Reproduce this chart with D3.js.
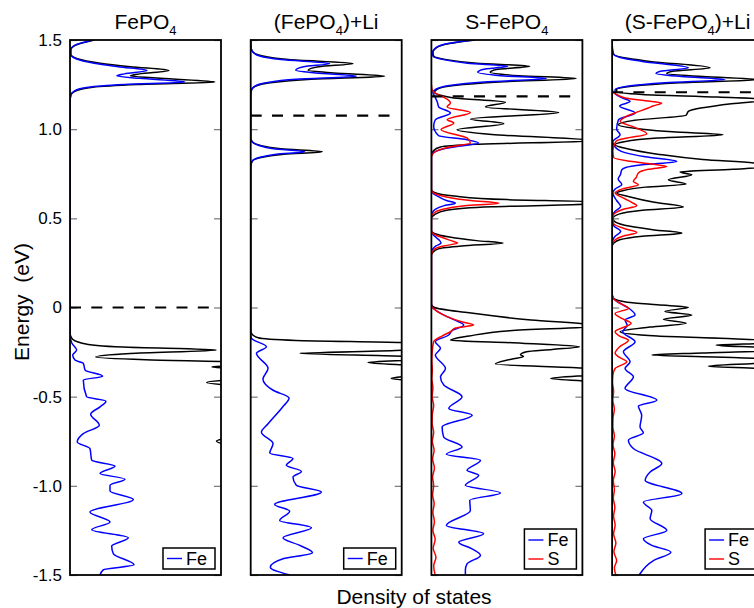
<!DOCTYPE html>
<html>
<head>
<meta charset="utf-8">
<script src="https://cdn.jsdelivr.net/npm/d3@7"></script>
<style>
  body { margin: 0; background: #fff; }
</style>
</head>
<body>
<div id="chart"></div>
<script>
// energy (eV), density of states (arb.) pairs
var titles = [["FePO", "4", ""], ["(FePO", "4", ")+Li"], ["S-FePO", "4", ""], ["(S-FePO", "4", ")+Li"]];
var fermiLevels = [0, 1.076, 1.184, 1.207];
var energyTicks = [-1.5, -1.0, -0.5, 0, 0.5, 1.0, 1.5];

// panel 1: FePO4
var fePO4Total = [[1.5,1.6],[1.47,0.35],[1.445,0.05],[1.42,0.05],[1.395,0.5],[1.37,2.0],[1.35,4.0],[1.329,6.55],[1.31,4.6],[1.299,4.0],[1.285,6.0],[1.265,9.6],[1.25,4.5],[1.235,1.5],[1.215,0.4],[1.19,0.05],[1.15,0],
  [-0.14,0],[-0.17,0.1],[-0.2,0.8],[-0.222,3.5],[-0.239,9.7],[-0.258,4],[-0.278,1.7],[-0.293,5],[-0.305,11],[-0.32,12.5],[-0.333,9.4],[-0.35,12],[-0.39,12.5],[-0.42,9.05],[-0.45,12],[-0.55,12.5],[-0.7,12],[-0.75,9.7],[-0.8,12],[-1.0,13],[-1.2,12.5],[-1.5,13]];
var fePO4Fe = [[1.5,1.5],[1.47,0.3],[1.445,0.05],[1.42,0.05],[1.395,0.4],[1.37,1.6],[1.35,3.2],[1.329,5.1],[1.31,3.6],[1.299,3.1],[1.285,4.6],[1.265,7.6],[1.25,3.6],[1.235,1.2],[1.215,0.3],[1.19,0.05],[1.15,0],
  [-0.15,0],[-0.198,0.11],[-0.239,0.44],[-0.267,0.18],[-0.295,0.33],[-0.313,0.88],[-0.351,1.0],[-0.385,2.16],[-0.407,0.88],[-0.501,1.1],[-0.525,2.38],[-0.557,1.99],[-0.598,1.37],[-0.66,1.94],[-0.707,0.88],[-0.754,0.48],[-0.791,1.32],[-0.857,1.44],[-0.889,2.98],[-0.931,1.99],[-0.963,3.64],[-0.997,2.65],[-1.029,2.65],[-1.076,4.19],[-1.147,1.32],[-1.203,2.65],[-1.246,1.44],[-1.291,3.86],[-1.338,2.76],[-1.381,2.87],[-1.443,4.24],[-1.471,2.2],[-1.5,1.99]];

// panel 2: (FePO4)+Li
var liTotal = [[1.5,0],[1.46,0.02],[1.437,0.1],[1.41,0.8],[1.39,2.5],[1.368,6.78],[1.35,4.5],[1.33,3.8],[1.315,5.5],[1.297,8.87],[1.28,4],[1.26,1.3],[1.24,0.3],[1.22,0.05],[1.19,0],
  [0.95,0],[0.93,0.1],[0.91,0.6],[0.89,2.0],[0.874,4.75],[0.86,2.2],[0.84,0.6],[0.82,0.1],[0.79,0],
  [-0.13,0],[-0.145,0.05],[-0.17,0.5],[-0.185,3],[-0.198,10.5],[-0.22,12],[-0.24,10],[-0.257,3.25],[-0.275,10.5],[-0.29,11.5],[-0.308,7.77],[-0.33,11.5],[-0.37,12],[-0.398,9.3],[-0.42,12],[-0.6,12.5],[-1.0,13],[-1.5,13]];
var liFe = [[1.5,0],[1.46,0.02],[1.437,0.1],[1.41,0.6],[1.39,2.0],[1.368,5.23],[1.35,3.5],[1.33,2.98],[1.315,4.3],[1.297,7.0],[1.28,3],[1.26,1.0],[1.24,0.25],[1.22,0.05],[1.19,0],
  [0.95,0],[0.93,0.08],[0.91,0.5],[0.89,1.5],[0.874,3.58],[0.86,1.7],[0.84,0.5],[0.82,0.08],[0.79,0],
  [-0.15,0],[-0.173,0.05],[-0.22,1.04],[-0.257,0.38],[-0.341,1.15],[-0.402,0.81],[-0.464,1.48],[-0.508,2.54],[-0.559,2.1],[-0.652,1.15],[-0.699,0.71],[-0.763,1.48],[-0.816,1.26],[-0.847,2.8],[-0.885,2.36],[-0.919,3.36],[-0.951,2.8],[-0.997,3.02],[-1.035,4.68],[-1.104,1.59],[-1.142,2.58],[-1.194,1.92],[-1.235,4.02],[-1.291,2.14],[-1.334,3.25],[-1.375,4.09],[-1.409,2.14],[-1.456,1.3],[-1.5,2.6]];

// panel 3: S-FePO4
var sTotal = [[1.5,2.9],[1.48,1.2],[1.46,0.4],[1.43,0.1],[1.41,0.15],[1.39,1.0],[1.37,3.0],[1.353,6.51],[1.335,4.3],[1.319,3.9],[1.3,5.8],[1.284,9.6],[1.265,4.5],[1.245,1.5],[1.225,0.4],[1.205,0.2],[1.19,0.6],[1.175,1.48],[1.151,4.9],[1.125,3.58],[1.094,8.43],[1.057,2.58],[1.031,4.79],[0.997,1.7],[0.97,4],[0.935,10.8],[0.915,3],[0.9,0.6],[0.88,0.15],[0.85,0],
  [0.66,0],[0.645,0.2],[0.625,1.5],[0.605,5],[0.594,10.4],[0.58,10.2],[0.565,4],[0.545,1.0],[0.52,0.2],[0.5,0],
  [0.43,0],[0.415,0.2],[0.395,1.2],[0.375,3],[0.361,4.75],[0.345,2.0],[0.33,0.5],[0.31,0.1],[0.29,0],
  [0.02,0],[0.0,0.2],[-0.03,2.5],[-0.07,6.6],[-0.096,10.5],[-0.105,11],[-0.13,5.2],[-0.16,2.5],[-0.183,1.26],[-0.2,6],[-0.22,9.8],[-0.235,8],[-0.248,6.3],[-0.265,5.9],[-0.275,6.1],[-0.29,5.3],[-0.317,4.24],[-0.342,10.5],[-0.37,11.5],[-0.398,7.9],[-0.42,11.5],[-0.6,12],[-1.0,12.5],[-1.5,12.5]];
var sFe = [[1.5,2.8],[1.48,1.1],[1.46,0.35],[1.43,0.08],[1.41,0.1],[1.39,0.8],[1.37,2.4],[1.353,5.05],[1.335,3.4],[1.319,3.07],[1.3,4.6],[1.284,7.62],[1.265,3.5],[1.245,1.2],[1.225,0.3],[1.205,0.1],[1.18,0.25],[1.15,0.4],[1.125,0.48],[1.091,1.26],[1.053,0.26],[1.016,0.15],[0.963,0.48],[0.941,2.36],[0.922,3.13],[0.9,1.5],[0.885,0.6],[0.87,0.15],[0.85,0],
  [0.66,0],[0.64,0.1],[0.62,0.5],[0.6,1.0],[0.585,1.59],[0.57,0.8],[0.55,0.25],[0.53,0.05],[0.51,0],
  [0.43,0],[0.41,0.1],[0.39,0.35],[0.375,0.55],[0.361,0.64],[0.345,0.3],[0.33,0.1],[0.31,0],
  [0.01,0],[-0.01,0.2],[-0.05,1.0],[-0.08,1.8],[-0.098,2.14],[-0.13,1.37],[-0.154,1.15],[-0.192,0.26],[-0.229,0.6],[-0.267,0.26],[-0.342,0.93],[-0.389,0.6],[-0.435,0.82],[-0.501,2.03],[-0.566,1.15],[-0.604,2.7],[-0.67,0.71],[-0.726,0.81],[-0.782,2.03],[-0.823,0.99],[-0.857,3.25],[-0.913,2.36],[-0.941,3.13],[-0.997,2.25],[-1.04,4.57],[-1.081,2.54],[-1.138,2.58],[-1.222,0.99],[-1.269,3.46],[-1.316,1.81],[-1.353,2.69],[-1.39,3.25],[-1.437,2.36],[-1.471,2.25],[-1.5,2.25]];
var sS = [[1.25,0],[1.22,0.05],[1.2,0.3],[1.175,0.9],[1.147,1.26],[1.125,1.04],[1.094,2.58],[1.053,1.04],[1.035,1.48],[0.997,0.64],[0.951,2.36],[0.922,2.58],[0.9,1.2],[0.88,0.4],[0.866,0.15],[0.84,0],
  [0.66,0],[0.64,0.2],[0.62,1.0],[0.6,2.6],[0.585,4.46],[0.57,2.2],[0.55,0.7],[0.53,0.15],[0.51,0],
  [0.43,0],[0.41,0.2],[0.39,0.8],[0.375,1.3],[0.361,1.74],[0.345,0.8],[0.33,0.25],[0.31,0.05],[0.29,0],
  [0.01,0],[-0.01,0.2],[-0.05,1.0],[-0.08,2.0],[-0.098,2.8],[-0.115,1.6],[-0.136,1.26],[-0.16,0.7],[-0.192,0.15],[-0.25,0.05],[-0.3,0.03],[-0.35,0.06],[-0.4,0.03],[-0.45,0.1],[-0.5,0.05],[-0.55,0.15],[-0.6,0.06],[-0.65,0.05],[-0.7,0.15],[-0.75,0.06],[-0.8,0.18],[-0.85,0.08],[-0.9,0.2],[-0.95,0.08],[-1.0,0.15],[-1.05,0.08],[-1.1,0.18],[-1.15,0.1],[-1.2,0.2],[-1.25,0.1],[-1.3,0.25],[-1.35,0.12],[-1.4,0.3],[-1.45,0.15],[-1.5,0.25]];

// panel 4: (S-FePO4)+Li
var sLiTotal = [[1.5,0],[1.45,0.02],[1.42,0.1],[1.4,0.8],[1.38,2.5],[1.344,6.49],[1.325,4.0],[1.312,3.62],[1.295,6.0],[1.278,9.7],[1.26,4.5],[1.24,1.3],[1.222,0.3],[1.21,0.3],[1.195,2.0],[1.18,7],[1.166,10.5],[1.143,7.9],[1.12,6.0],[1.1,5.05],[1.078,4.9],[1.05,1.5],[1.025,0.42],[1.0,2.0],[0.985,4],[0.969,7.35],[0.95,3],[0.93,0.8],[0.913,0.2],[0.89,1.0],[0.86,3.0],[0.83,6],[0.81,9.5],[0.791,10.5],[0.775,8],[0.76,4.5],[0.744,5.28],[0.716,3.73],[0.692,4.9],[0.675,2.2],[0.655,0.7],[0.642,0.31],[0.62,1.2],[0.59,2.8],[0.563,4.72],[0.545,2.0],[0.525,0.5],[0.5,0.05],[0.48,0.2],[0.455,1.2],[0.435,2.8],[0.417,4.62],[0.4,2.0],[0.38,0.5],[0.36,0.1],[0.34,0],
  [0.07,0],[0.052,0.1],[0.03,1.0],[0.015,3.0],[0.001,5.05],[-0.022,3.5],[-0.042,5.28],[-0.066,3.4],[-0.089,4.9],[-0.11,2.5],[-0.136,0.53],[-0.16,3],[-0.175,8],[-0.19,11],[-0.2,10.5],[-0.211,6.9],[-0.225,10],[-0.24,11],[-0.255,6],[-0.267,2.63],[-0.28,8],[-0.295,11],[-0.31,10],[-0.329,6.38],[-0.347,11],[-0.4,12],[-0.7,12.5],[-1.0,13],[-1.5,13]];
var sLiFe = [[1.5,0],[1.45,0.02],[1.42,0.1],[1.4,0.6],[1.38,2.0],[1.344,5.05],[1.325,3.2],[1.312,2.91],[1.295,4.6],[1.278,7.48],[1.26,3.5],[1.24,1.0],[1.222,0.2],[1.2,0.2],[1.175,0.7],[1.156,1.19],[1.13,0.5],[1.091,1.52],[1.053,0.42],[1.0,0.3],[0.969,0.53],[0.93,0.05],[0.9,0.2],[0.87,0.8],[0.845,2.2],[0.819,4.28],[0.8,2.0],[0.785,0.9],[0.772,0.64],[0.745,0.55],[0.72,0.4],[0.69,0.64],[0.665,0.2],[0.642,0.05],[0.6,0.3],[0.566,0.57],[0.54,0.2],[0.51,0.02],[0.46,0.1],[0.426,0.57],[0.4,0.2],[0.37,0.02],[0.34,0],
  [0.08,0],[0.05,0.1],[0.02,0.6],[-0.01,1.2],[-0.042,1.52],[-0.07,0.86],[-0.1,1.0],[-0.136,0.7],[-0.192,1.52],[-0.248,0.75],[-0.304,1.19],[-0.342,0.86],[-0.389,1.41],[-0.454,0.86],[-0.52,2.96],[-0.553,1.74],[-0.604,1.96],[-0.67,1.85],[-0.703,2.07],[-0.744,1.08],[-0.791,1.41],[-0.875,3.29],[-0.922,2.52],[-0.969,2.19],[-1.044,4.62],[-1.091,2.07],[-1.138,2.63],[-1.184,2.52],[-1.25,3.62],[-1.297,2.07],[-1.334,2.63],[-1.372,3.89],[-1.419,2.74],[-1.493,1.85],[-1.5,1.8]];
var sLiS = [[1.24,0],[1.21,0.05],[1.19,0.4],[1.175,0.86],[1.16,2.2],[1.147,3.29],[1.13,2.7],[1.119,2.4],[1.091,1.52],[1.065,0.8],[1.044,0.53],[1.01,1.5],[0.973,2.3],[0.95,1.0],[0.935,0.3],[0.922,0.2],[0.88,0.05],[0.84,0.1],[0.82,1.2],[0.805,2.6],[0.791,3.62],[0.775,2.4],[0.754,1.74],[0.73,1.6],[0.707,1.41],[0.688,1.74],[0.665,0.7],[0.642,0.2],[0.62,0.6],[0.59,1.3],[0.57,1.63],[0.55,0.7],[0.53,0.2],[0.51,0.05],[0.47,0.1],[0.44,0.9],[0.42,1.63],[0.4,0.7],[0.38,0.2],[0.36,0.05],[0.34,0],
  [0.08,0],[0.05,0.1],[0.025,0.5],[-0.005,1.08],[-0.033,0.2],[-0.06,0.6],[-0.089,1.26],[-0.136,0.2],[-0.16,0.5],[-0.183,1.08],[-0.22,0.5],[-0.257,0.2],[-0.28,0.5],[-0.304,0.97],[-0.342,0.2],[-0.38,0.05],[-0.42,0.03],[-0.47,0.1],[-0.52,0.05],[-0.57,0.15],[-0.62,0.06],[-0.67,0.05],[-0.72,0.15],[-0.77,0.06],[-0.82,0.18],[-0.87,0.08],[-0.92,0.2],[-0.97,0.08],[-1.02,0.15],[-1.07,0.08],[-1.12,0.18],[-1.17,0.1],[-1.22,0.2],[-1.27,0.1],[-1.32,0.25],[-1.37,0.12],[-1.42,0.3],[-1.46,0.15],[-1.5,0.25]];

var panelSeries = [
  {total: fePO4Total, fe: fePO4Fe, s: null},
  {total: liTotal, fe: liFe, s: null},
  {total: sTotal, fe: sFe, s: sS},
  {total: sLiTotal, fe: sLiFe, s: sLiS}
];

var svgWidth = 754;
var svgHeight = 608;
var margin = {top: 40, left: 70};
var panelW = 151;
var panelH = 535;
var panelStep = 180.7;
var font = "'Liberation Sans', Arial, Helvetica, sans-serif";

var svg = d3.select("#chart")
  .append("svg")
  .attr("width", svgWidth)
  .attr("height", svgHeight)
  .attr("font-family", font);

var x = d3.scaleLinear().domain([0, 10]).range([0, panelW]);
var y = d3.scaleLinear().domain([-1.5, 1.5]).range([panelH, 0]);

var line = d3.line()
  .x(d => x(d[1]))
  .y(d => y(d[0]))
  .curve(d3.curveMonotoneY);

function sorted(arr) {
  return arr.slice().sort((a, b) => a[0] - b[0]);
}

panelSeries.forEach(function(p, i) {
  var g = svg.append("g")
    .attr("transform", `translate(${margin.left + i * panelStep}, ${margin.top})`);

  svg.append("clipPath")
    .attr("id", "clip" + i)
    .append("rect")
    .attr("width", panelW)
    .attr("height", panelH);

  // ticks inside, both sides
  var left = g.append("g")
    .call(d3.axisLeft(y).tickValues(energyTicks).tickSize(-7).tickPadding(8)
      .tickFormat(i === 0 ? (d => d === 0 ? "0" : d.toFixed(1)) : ""));
  var right = g.append("g")
    .attr("transform", `translate(${panelW}, 0)`)
    .call(d3.axisRight(y).tickValues(energyTicks).tickSize(-7).tickFormat(""));
  [left, right].forEach(function(a) {
    a.select(".domain").remove();
    a.selectAll(".tick line").attr("stroke", "#777").attr("stroke-width", 1.2);
    a.selectAll("text").attr("font-size", 17).attr("fill", "#000")
      .attr("font-family", font);
  });

  var plot = g.append("g").attr("clip-path", `url(#clip${i})`);

  plot.append("path")
    .datum(sorted(p.total))
    .attr("d", line)
    .attr("fill", "none")
    .attr("stroke", "#000")
    .attr("stroke-width", 1.5);

  plot.append("path")
    .datum(sorted(p.fe))
    .attr("d", line)
    .attr("fill", "none")
    .attr("stroke", "#0000ff")
    .attr("stroke-width", 1.5);

  if (p.s) {
    plot.append("path")
      .datum(sorted(p.s))
      .attr("d", line)
      .attr("fill", "none")
      .attr("stroke", "#ff0000")
      .attr("stroke-width", 1.5);
  }

  // Fermi level
  g.append("line")
    .attr("x1", 0)
    .attr("x2", panelW - 9)
    .attr("y1", y(fermiLevels[i]))
    .attr("y2", y(fermiLevels[i]))
    .attr("stroke", "#000")
    .attr("stroke-width", 2.2)
    .attr("stroke-dasharray", "11,10.3");

  // frame
  g.append("rect")
    .attr("width", panelW)
    .attr("height", panelH)
    .attr("fill", "none")
    .attr("stroke", "#000")
    .attr("stroke-width", 1.8);

  // title
  var t = g.append("text")
    .attr("x", panelW / 2)
    .attr("y", -11)
    .attr("text-anchor", "middle")
    .attr("font-size", 21);
  t.append("tspan").text(titles[i][0]);
  t.append("tspan").attr("font-size", 13).attr("dy", 6).text(titles[i][1]);
  t.append("tspan").attr("dy", -6).text(titles[i][2]);

  // legend
  var entries = p.s ? [["Fe", "#0000ff"], ["S", "#ff0000"]] : [["Fe", "#0000ff"]];
  var lh = entries.length === 1 ? 21 : 40;
  var lg = g.append("g").attr("transform", `translate(93, ${panelH - 6 - lh})`);
  lg.append("rect")
    .attr("width", 52)
    .attr("height", lh)
    .attr("fill", "#fff")
    .attr("stroke", "#000")
    .attr("stroke-width", 1.5);
  entries.forEach(function(e, k) {
    var cy = entries.length === 1 ? 10.5 : 11 + k * 19;
    lg.append("line")
      .attr("x1", 4).attr("x2", 19)
      .attr("y1", cy).attr("y2", cy)
      .attr("stroke", e[1]).attr("stroke-width", 1.4);
    lg.append("text")
      .attr("x", 23)
      .attr("y", cy)
      .attr("dy", "0.36em")
      .attr("font-size", 18)
      .text(e[0]);
  });
});

// axis titles
svg.append("text")
  .attr("transform", "rotate(-90)")
  .attr("x", -302)
  .attr("y", 29)
  .attr("text-anchor", "middle")
  .attr("font-size", 21)
  .style("white-space", "pre")
  .text("Energy  (eV)");

svg.append("text")
  .attr("x", 414)
  .attr("y", 604)
  .attr("text-anchor", "middle")
  .attr("font-size", 21)
  .text("Density of states");
</script>
</body>
</html>
